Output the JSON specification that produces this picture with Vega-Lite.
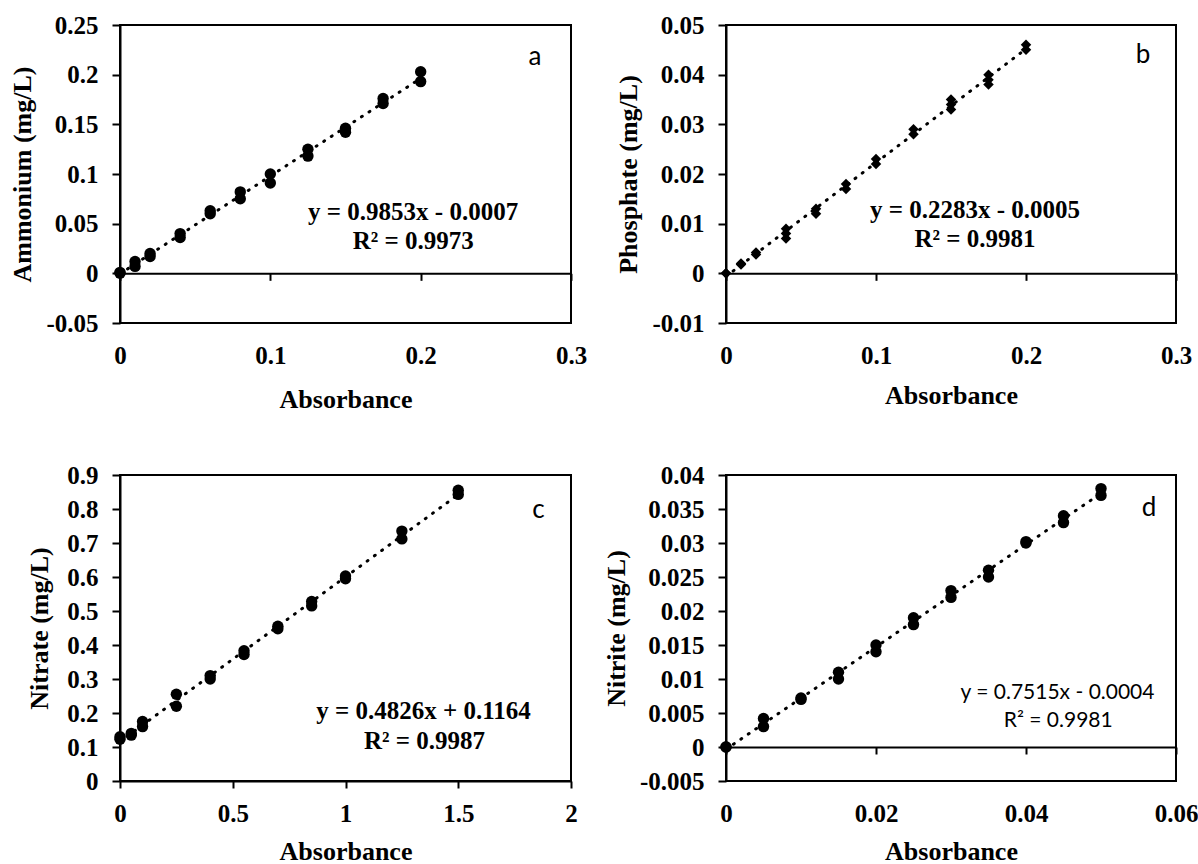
{
  "$schema": "https://vega.github.io/schema/vega-lite/v6.json",
  "background": "white",
  "padding": {"left": 8, "top": 12, "right": 0, "bottom": 0},
  "datasets": {
    "a": [
      {"x": 0, "y": 0}, {"x": 0, "y": 0.001},
      {"x": 0.01, "y": 0.012}, {"x": 0.01, "y": 0.007},
      {"x": 0.02, "y": 0.020}, {"x": 0.02, "y": 0.017},
      {"x": 0.04, "y": 0.040}, {"x": 0.04, "y": 0.036},
      {"x": 0.06, "y": 0.063}, {"x": 0.06, "y": 0.060},
      {"x": 0.08, "y": 0.082}, {"x": 0.08, "y": 0.075},
      {"x": 0.1, "y": 0.100}, {"x": 0.1, "y": 0.091},
      {"x": 0.125, "y": 0.125}, {"x": 0.125, "y": 0.118},
      {"x": 0.15, "y": 0.146}, {"x": 0.15, "y": 0.142},
      {"x": 0.175, "y": 0.176}, {"x": 0.175, "y": 0.171},
      {"x": 0.2, "y": 0.203}, {"x": 0.2, "y": 0.193}
    ],
    "b": [
      {"x": 0, "y": 0}, {"x": 0, "y": 0},
      {"x": 0.01, "y": 0.002}, {"x": 0.01, "y": 0.0018},
      {"x": 0.02, "y": 0.0042}, {"x": 0.02, "y": 0.0038},
      {"x": 0.04, "y": 0.009}, {"x": 0.04, "y": 0.008}, {"x": 0.04, "y": 0.007},
      {"x": 0.06, "y": 0.013}, {"x": 0.06, "y": 0.012},
      {"x": 0.08, "y": 0.018}, {"x": 0.08, "y": 0.017},
      {"x": 0.1, "y": 0.023}, {"x": 0.1, "y": 0.022},
      {"x": 0.125, "y": 0.029}, {"x": 0.125, "y": 0.028},
      {"x": 0.15, "y": 0.035}, {"x": 0.15, "y": 0.034}, {"x": 0.15, "y": 0.033},
      {"x": 0.175, "y": 0.040}, {"x": 0.175, "y": 0.039}, {"x": 0.175, "y": 0.038},
      {"x": 0.2, "y": 0.046}, {"x": 0.2, "y": 0.045}
    ],
    "c": [
      {"x": 0, "y": 0.13}, {"x": 0, "y": 0.123},
      {"x": 0.05, "y": 0.14}, {"x": 0.05, "y": 0.135},
      {"x": 0.1, "y": 0.175}, {"x": 0.1, "y": 0.16},
      {"x": 0.25, "y": 0.255}, {"x": 0.25, "y": 0.22},
      {"x": 0.4, "y": 0.31}, {"x": 0.4, "y": 0.30},
      {"x": 0.55, "y": 0.383}, {"x": 0.55, "y": 0.372},
      {"x": 0.7, "y": 0.455}, {"x": 0.7, "y": 0.448},
      {"x": 0.85, "y": 0.528}, {"x": 0.85, "y": 0.515},
      {"x": 1, "y": 0.603}, {"x": 1, "y": 0.595},
      {"x": 1.25, "y": 0.735}, {"x": 1.25, "y": 0.712},
      {"x": 1.5, "y": 0.855}, {"x": 1.5, "y": 0.843}
    ],
    "d": [
      {"x": 0, "y": 0}, {"x": 0, "y": 0},
      {"x": 0.005, "y": 0.0042}, {"x": 0.005, "y": 0.003},
      {"x": 0.01, "y": 0.007}, {"x": 0.01, "y": 0.0072},
      {"x": 0.015, "y": 0.011}, {"x": 0.015, "y": 0.010},
      {"x": 0.02, "y": 0.015}, {"x": 0.02, "y": 0.014},
      {"x": 0.025, "y": 0.019}, {"x": 0.025, "y": 0.018},
      {"x": 0.03, "y": 0.023}, {"x": 0.03, "y": 0.022},
      {"x": 0.035, "y": 0.026}, {"x": 0.035, "y": 0.025},
      {"x": 0.04, "y": 0.030}, {"x": 0.04, "y": 0.0302},
      {"x": 0.045, "y": 0.034}, {"x": 0.045, "y": 0.033},
      {"x": 0.05, "y": 0.038}, {"x": 0.05, "y": 0.037}
    ],
    "ta": [{"eq": "y = 0.9853x - 0.0007", "r2": "R² = 0.9973", "lab": "a"}],
    "tb": [{"eq": "y = 0.2283x - 0.0005", "r2": "R² = 0.9981", "lab": "b"}],
    "tc": [{"eq": "y = 0.4826x + 0.1164", "r2": "R² = 0.9987", "lab": "c"}],
    "td": [{"eq": "y = 0.7515x - 0.0004", "r2": "R² = 0.9981", "lab": "d"}]
  },
  "columns": 2,
  "bounds": "flush",
  "spacing": {"row": 152, "column": 155},
  "concat": [
    {
      "width": 451, "height": 298,
      "resolve": {"axis": {"x": "independent", "y": "independent"}},
      "layer": [
        {"data": {"name": "a"}, "mark": {"type": "line", "color": "black", "strokeWidth": 3, "strokeDash": [1, 8], "strokeCap": "round"}, "transform": [{"regression": "y", "on": "x"}],
          "encoding": {
            "x": {"field": "x", "type": "quantitative", "scale": {"domain": [0, 0.3], "nice": false, "zero": false},
              "axis": {"title": "Absorbance", "values": [0, 0.1, 0.2, 0.3], "labelExpr": "'' + datum.value", "offset": -49.67, "labelPadding": 75, "labelBaseline": "middle", "titlePadding": 18, "labelOverlap": false}},
            "y": {"field": "y", "type": "quantitative", "scale": {"domain": [-0.05, 0.25], "nice": false, "zero": false},
              "axis": {"title": "Ammonium (mg/L)", "values": [-0.05, 0, 0.05, 0.1, 0.15, 0.2, 0.25], "labelExpr": "'' + datum.value", "labelOverlap": false}}
          }},
        {"data": {"name": "a"}, "mark": {"type": "point", "shape": "circle", "filled": true, "color": "black", "opacity": 1, "size": 130},
          "encoding": {"x": {"field": "x", "type": "quantitative", "axis": null}, "y": {"field": "y", "type": "quantitative", "axis": null}}},
        {"data": {"name": "ta"}, "mark": {"type": "text", "font": "Liberation Serif", "fontWeight": "bold", "fontSize": 25, "color": "black"},
          "encoding": {"x": {"datum": 0.195, "type": "quantitative", "axis": null}, "y": {"datum": 0.062, "type": "quantitative", "axis": null}, "text": {"field": "eq"}}},
        {"data": {"name": "ta"}, "mark": {"type": "text", "font": "Liberation Serif", "fontWeight": "bold", "fontSize": 25, "color": "black"},
          "encoding": {"x": {"datum": 0.195, "type": "quantitative", "axis": null}, "y": {"datum": 0.033, "type": "quantitative", "axis": null}, "text": {"field": "r2"}}},
        {"data": {"name": "ta"}, "mark": {"type": "text", "font": "Lato", "fontSize": 26, "color": "black"},
          "encoding": {"x": {"datum": 0.276, "type": "quantitative", "axis": null}, "y": {"datum": 0.218, "type": "quantitative", "axis": null}, "text": {"field": "lab"}}}
      ]
    },
    {
      "width": 450, "height": 298,
      "resolve": {"axis": {"x": "independent", "y": "independent"}},
      "layer": [
        {"data": {"name": "b"}, "mark": {"type": "line", "color": "black", "strokeWidth": 3, "strokeDash": [1, 8], "strokeCap": "round"}, "transform": [{"regression": "y", "on": "x"}],
          "encoding": {
            "x": {"field": "x", "type": "quantitative", "scale": {"domain": [0, 0.3], "nice": false, "zero": false},
              "axis": {"title": "Absorbance", "values": [0, 0.1, 0.2, 0.3], "labelExpr": "'' + datum.value", "offset": -49.67, "labelPadding": 75, "labelBaseline": "middle", "titlePadding": 14, "labelOverlap": false}},
            "y": {"field": "y", "type": "quantitative", "scale": {"domain": [-0.01, 0.05], "nice": false, "zero": false},
              "axis": {"title": "Phosphate (mg/L)", "values": [-0.01, 0, 0.01, 0.02, 0.03, 0.04, 0.05], "labelExpr": "'' + datum.value", "labelOverlap": false}}
          }},
        {"data": {"name": "b"}, "mark": {"type": "point", "shape": "diamond", "filled": true, "color": "black", "opacity": 1, "size": 110},
          "encoding": {"x": {"field": "x", "type": "quantitative", "axis": null}, "y": {"field": "y", "type": "quantitative", "axis": null}}},
        {"data": {"name": "tb"}, "mark": {"type": "text", "font": "Liberation Serif", "fontWeight": "bold", "fontSize": 25, "color": "black"},
          "encoding": {"x": {"datum": 0.166, "type": "quantitative", "axis": null}, "y": {"datum": 0.0128, "type": "quantitative", "axis": null}, "text": {"field": "eq"}}},
        {"data": {"name": "tb"}, "mark": {"type": "text", "font": "Liberation Serif", "fontWeight": "bold", "fontSize": 25, "color": "black"},
          "encoding": {"x": {"datum": 0.166, "type": "quantitative", "axis": null}, "y": {"datum": 0.007, "type": "quantitative", "axis": null}, "text": {"field": "r2"}}},
        {"data": {"name": "tb"}, "mark": {"type": "text", "font": "Lato", "fontSize": 26, "color": "black"},
          "encoding": {"x": {"datum": 0.278, "type": "quantitative", "axis": null}, "y": {"datum": 0.044, "type": "quantitative", "axis": null}, "text": {"field": "lab"}}}
      ]
    },
    {
      "width": 451, "height": 306,
      "resolve": {"axis": {"x": "independent", "y": "independent"}},
      "layer": [
        {"data": {"name": "c"}, "mark": {"type": "line", "color": "black", "strokeWidth": 3, "strokeDash": [1, 8], "strokeCap": "round"}, "transform": [{"regression": "y", "on": "x"}],
          "encoding": {
            "x": {"field": "x", "type": "quantitative", "scale": {"domain": [0, 2], "nice": false, "zero": false},
              "axis": {"title": "Absorbance", "values": [0, 0.5, 1, 1.5, 2], "labelExpr": "'' + datum.value", "labelPadding": 25, "labelBaseline": "middle", "titlePadding": 12, "labelOverlap": false}},
            "y": {"field": "y", "type": "quantitative", "scale": {"domain": [0, 0.9], "nice": false, "zero": false},
              "axis": {"title": "Nitrate (mg/L)", "values": [0, 0.1, 0.2, 0.3, 0.4, 0.5, 0.6, 0.7, 0.8, 0.9], "labelExpr": "'' + datum.value", "titlePadding": 14, "labelOverlap": false}}
          }},
        {"data": {"name": "c"}, "mark": {"type": "point", "shape": "circle", "filled": true, "color": "black", "opacity": 1, "size": 130},
          "encoding": {"x": {"field": "x", "type": "quantitative", "axis": null}, "y": {"field": "y", "type": "quantitative", "axis": null}}},
        {"data": {"name": "tc"}, "mark": {"type": "text", "font": "Liberation Serif", "fontWeight": "bold", "fontSize": 25, "color": "black"},
          "encoding": {"x": {"datum": 1.346, "type": "quantitative", "axis": null}, "y": {"datum": 0.206, "type": "quantitative", "axis": null}, "text": {"field": "eq"}}},
        {"data": {"name": "tc"}, "mark": {"type": "text", "font": "Liberation Serif", "fontWeight": "bold", "fontSize": 25, "color": "black"},
          "encoding": {"x": {"datum": 1.35, "type": "quantitative", "axis": null}, "y": {"datum": 0.118, "type": "quantitative", "axis": null}, "text": {"field": "r2"}}},
        {"data": {"name": "tc"}, "mark": {"type": "text", "font": "Lato", "fontSize": 26, "color": "black"},
          "encoding": {"x": {"datum": 1.856, "type": "quantitative", "axis": null}, "y": {"datum": 0.797, "type": "quantitative", "axis": null}, "text": {"field": "lab"}}}
      ]
    },
    {
      "width": 450, "height": 306,
      "resolve": {"axis": {"x": "independent", "y": "independent"}},
      "layer": [
        {"data": {"name": "d"}, "mark": {"type": "line", "color": "black", "strokeWidth": 3, "strokeDash": [1, 8], "strokeCap": "round"}, "transform": [{"regression": "y", "on": "x"}],
          "encoding": {
            "x": {"field": "x", "type": "quantitative", "scale": {"domain": [0, 0.06], "nice": false, "zero": false},
              "axis": {"title": "Absorbance", "values": [0, 0.02, 0.04, 0.06], "labelExpr": "'' + datum.value", "offset": -34, "labelPadding": 59, "labelBaseline": "middle", "titlePadding": 12, "labelOverlap": false}},
            "y": {"field": "y", "type": "quantitative", "scale": {"domain": [-0.005, 0.04], "nice": false, "zero": false},
              "axis": {"title": "Nitrite (mg/L)", "values": [-0.005, 0, 0.005, 0.01, 0.015, 0.02, 0.025, 0.03, 0.035, 0.04], "labelExpr": "'' + datum.value", "labelOverlap": false}}
          }},
        {"data": {"name": "d"}, "mark": {"type": "point", "shape": "circle", "filled": true, "color": "black", "opacity": 1, "size": 130},
          "encoding": {"x": {"field": "x", "type": "quantitative", "axis": null}, "y": {"field": "y", "type": "quantitative", "axis": null}}},
        {"data": {"name": "td"}, "mark": {"type": "text", "font": "Lato", "fontSize": 21, "color": "black"},
          "encoding": {"x": {"datum": 0.0442, "type": "quantitative", "axis": null}, "y": {"datum": 0.008, "type": "quantitative", "axis": null}, "text": {"field": "eq"}}},
        {"data": {"name": "td"}, "mark": {"type": "text", "font": "Lato", "fontSize": 21, "color": "black"},
          "encoding": {"x": {"datum": 0.0443, "type": "quantitative", "axis": null}, "y": {"datum": 0.0038, "type": "quantitative", "axis": null}, "text": {"field": "r2"}}},
        {"data": {"name": "td"}, "mark": {"type": "text", "font": "Lato", "fontSize": 26, "color": "black"},
          "encoding": {"x": {"datum": 0.0564, "type": "quantitative", "axis": null}, "y": {"datum": 0.0351, "type": "quantitative", "axis": null}, "text": {"field": "lab"}}}
      ]
    }
  ],
  "config": {
    "view": {"stroke": "black", "strokeWidth": 2},
    "axis": {
      "grid": false,
      "labelFont": "Liberation Serif", "labelFontWeight": "bold", "labelFontSize": 25, "labelColor": "black",
      "titleFont": "Liberation Serif", "titleFontWeight": "bold", "titleFontSize": 26, "titleColor": "black",
      "domainColor": "black", "domainWidth": 2, "tickColor": "black", "tickWidth": 2,
      "labelFlush": false, "labelOverlap": false
    },
    "axisX": {"tickSize": 7},
    "axisY": {"tickSize": 8, "labelPadding": 14, "titlePadding": 10}
  }
}
